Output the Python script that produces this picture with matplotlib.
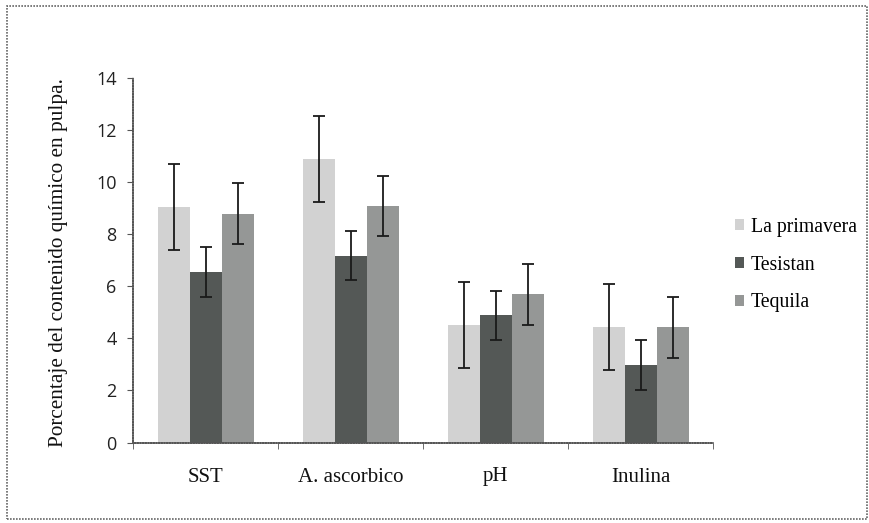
import matplotlib
matplotlib.use("Agg")
import matplotlib.pyplot as plt
import numpy as np
from matplotlib.patches import Rectangle

categories = ["SST", "A. ascorbico", "pH", "Inulina"]
series = ["La primavera", "Tesistan", "Tequila"]
la_primavera = [9.05, 10.9, 4.5, 4.43]
la_primavera_err = [1.65, 1.65, 1.65, 1.66]
tesistan = [6.55, 7.17, 4.88, 2.98]
tesistan_err = [0.95, 0.94, 0.95, 0.97]
tequila = [8.78, 9.07, 5.7, 4.43]
tequila_err = [1.17, 1.15, 1.17, 1.17]
colors = ["#d2d2d2", "#545856", "#959796"]
yticks = [0, 2, 4, 6, 8, 10, 12, 14]

fig = plt.figure(figsize=(8.69, 5.23), dpi=100)
ax = fig.add_axes([133.3 / 869, 1 - 442.5 / 523, 580 / 869, (442.5 - 78) / 523])

x = np.arange(len(categories))
w = 0.222
vals = [la_primavera, tesistan, tequila]
errs = [la_primavera_err, tesistan_err, tequila_err]
for i, (v, e, c, s) in enumerate(zip(vals, errs, colors, series)):
    ax.bar(x + (i - 1) * w, v, width=w, color=c, label=s, zorder=2)
    ax.errorbar(x + (i - 1) * w, v, yerr=e, fmt="none", ecolor="#1a1a1a",
                elinewidth=1.3, capsize=4, capthick=1.3, zorder=3)

ax.set_xlim(-0.5, len(categories) - 0.5)
ax.set_ylim(0, 14)
ax.set_yticks(yticks)
ax.set_yticklabels([str(t) for t in yticks], fontfamily="Open Sans", fontsize=13, color="#222222")
ax.set_xticks(x)
ax.set_xticklabels(categories, fontfamily="Liberation Serif", fontsize=15, color="#111111")
ax.tick_params(axis="x", length=0, pad=18)
ax.set_xticks(np.arange(-0.5, len(categories) + 0.5, 1), minor=True)
ax.tick_params(axis="x", which="minor", length=4, direction="out", color="#555555")
ax.tick_params(axis="y", length=4, direction="out", color="#555555", pad=8)
for sp in ["top", "right"]:
    ax.spines[sp].set_visible(False)
for sp in ["left", "bottom"]:
    ax.spines[sp].set_color("#555555")
    ax.spines[sp].set_linewidth(1.2)
    ax.spines[sp].set_linestyle((0, (1, 0.6)))

fig.text(59 / 869, 1 - 263 / 523, "Porcentaje del contenido químico en pulpa.",
         rotation=90, ha="center", va="center", fontfamily="Liberation Serif",
         fontsize=15.3, color="#111111")

leg = ax.legend(loc="center left", bbox_to_anchor=(717 / 869, 1 - 265 / 523),
                bbox_transform=fig.transFigure, frameon=False,
                prop={"family": "Liberation Serif", "size": 14.2},
                handlelength=0.45, handleheight=0.45, handletextpad=0.35, labelspacing=0.95)

fig.patches.append(Rectangle((7 / 869, 1 - 519 / 523), (867 - 7) / 869, (519 - 6) / 523,
                             transform=fig.transFigure, fill=False, edgecolor="#666666",
                             linewidth=1.2, linestyle=(0, (1, 0.8))))

fig.savefig("out.png", dpi=100)
